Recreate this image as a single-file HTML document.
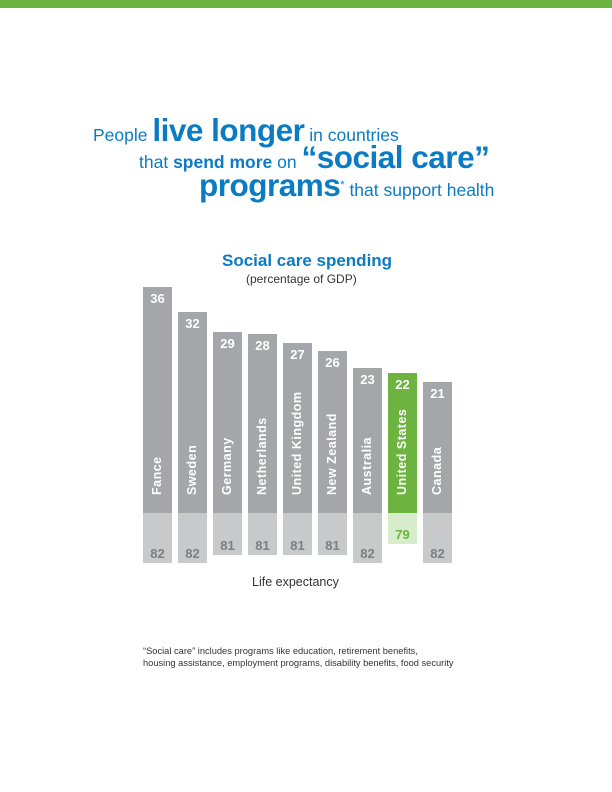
<!DOCTYPE html>
<html><head><meta charset="utf-8"><style>
body{margin:0;width:612px;height:792px;background:#fff;position:relative;font-family:"Liberation Sans",sans-serif;overflow:hidden}
.a{position:absolute;white-space:nowrap}
.b{position:absolute;width:29px;background:#a5a6a9}
.l{position:absolute;width:29px;background:#c8c9cb}
.n{position:absolute;width:29px;text-align:center;color:#fff;font-weight:bold;font-size:13px}
.m{position:absolute;width:29px;text-align:center;color:#7d7e81;font-weight:bold;font-size:13px}
.c{position:absolute;color:#fff;font-weight:bold;font-size:12.5px;transform:rotate(-90deg);transform-origin:0 0;letter-spacing:0.5px}
.t{color:#0b7cc4;line-height:0;height:0}
.t b.big{font-size:31.5px;letter-spacing:-0.5px}
</style></head><body>
<div class="a" style="left:0;top:0;width:612px;height:8px;background:#6cb33f"></div>
<div class="a t" style="left:93px;top:130px;font-size:17.5px">People <b class="big">live longer</b> in countries</div>
<div class="a t" style="left:139px;top:157px;font-size:17.5px">that <b>spend more</b> on <b class="big">“social care”</b></div>
<div class="a t" style="left:199px;top:185px;font-size:17.5px"><b class="big">programs</b><span style="font-size:11px;position:relative;top:-8px">*</span> that support health</div>
<div class="a t" style="left:222px;top:261px;font-size:17px;font-weight:bold">Social care spending</div>
<div class="a" style="left:246px;top:272px;font-size:12px;color:#333">(percentage of GDP)</div>
<div id="ch"></div>
<div class="a" style="left:252px;top:575px;font-size:12.5px;color:#333">Life expectancy</div>
<div class="a" style="left:143px;top:645px;font-size:9.3px;color:#333;line-height:12px">“Social care” includes programs like education, retirement benefits,<br>housing assistance, employment programs, disability benefits, food security</div>
<script>
var d=[["Fance",36,287,82],["Sweden",32,312,82],["Germany",29,332,81],["Netherlands",28,334,81],["United Kingdom",27,343,81],["New Zealand",26,351,81],["Australia",23,368,82],["United States",22,373,79],["Canada",21,382,82]];
var h="";
d.forEach(function(r,i){var x=143+i*35,us=r[0]=="United States";
var lb=r[3]==82?563:r[3]==81?555:544;
h+='<div class="b" style="left:'+x+'px;top:'+r[2]+'px;height:'+(513-r[2])+'px;'+(us?'background:#6cb33f':'')+'"></div>';
h+='<div class="l" style="left:'+x+'px;top:513px;height:'+(lb-513)+'px;'+(us?'background:#d7eccb':'')+'"></div>';
h+='<div class="n" style="left:'+x+'px;top:'+(r[2]+4)+'px">'+r[1]+'</div>';
h+='<div class="m" style="left:'+x+'px;top:'+(lb-17)+'px;'+(us?'color:#6cb33f':'')+'">'+r[3]+'</div>';
h+='<div class="c" style="left:'+(x+7)+'px;top:495px">'+r[0]+'</div>';});
document.getElementById("ch").innerHTML=h;
</script>
</body></html>
